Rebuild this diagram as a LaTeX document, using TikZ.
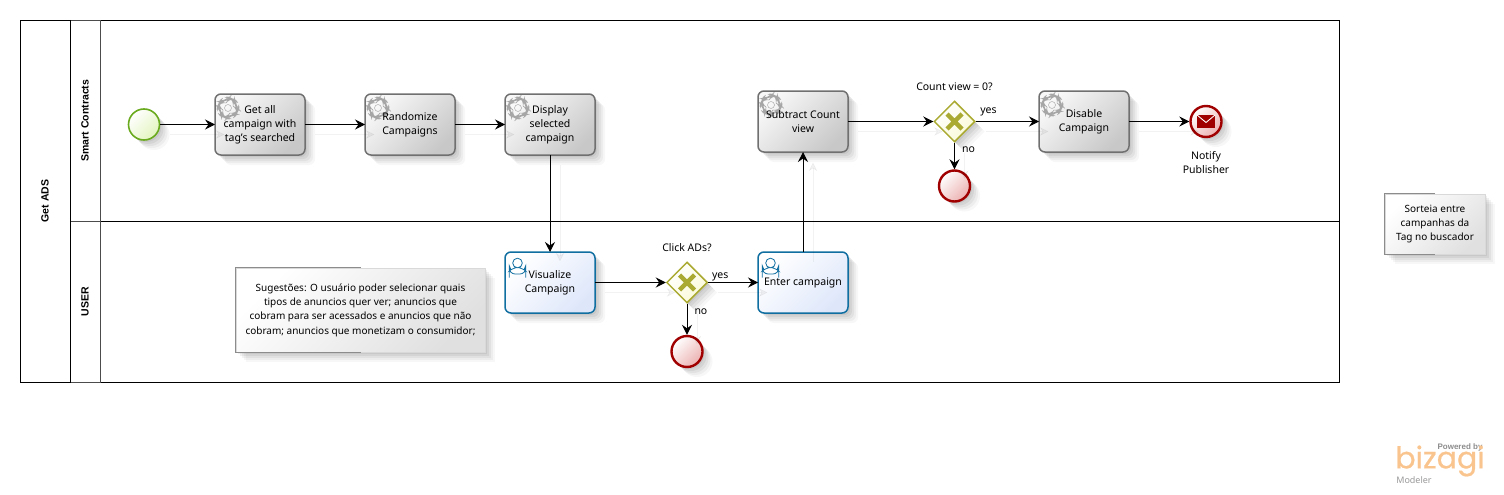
\documentclass[tikz,border=0pt]{standalone}
\usepackage{fontspec}
\setmainfont{Noto Sans}
\newfontfamily\headfont{Liberation Sans}
\newfontfamily\logofont[FakeBold=0.7]{Poppins}
\usetikzlibrary{shapes.geometric,arrows.meta,positioning,shadows}
\definecolor{cTaskTop}{RGB}{248,248,248}
\definecolor{cTaskEnd}{RGB}{200,200,200}
\definecolor{cTaskEdge}{RGB}{112,112,112}
\definecolor{cUserTop}{RGB}{255,255,255}
\definecolor{cUserEnd}{RGB}{222,231,250}
\definecolor{cUserEdge}{RGB}{16,110,160}
\definecolor{cStartEdge}{RGB}{106,170,30}
\definecolor{cStartEnd}{RGB}{226,244,190}
\definecolor{cEndEdge}{RGB}{160,0,0}
\definecolor{cEndEnd}{RGB}{236,176,176}
\definecolor{cGateEdge}{RGB}{170,170,50}
\definecolor{cGateEnd}{RGB}{250,250,215}
\definecolor{cLogo}{RGB}{249,196,142}
\tikzset{
  softshadow/.style={
    general shadow={fill=black,opacity=.03,shadow xshift=10pt,shadow yshift=-10pt},
    general shadow={fill=black,opacity=.04,shadow xshift=8pt,shadow yshift=-8pt},
    general shadow={fill=black,opacity=.05,shadow xshift=6pt,shadow yshift=-6pt},
    general shadow={fill=black,opacity=.06,shadow xshift=4pt,shadow yshift=-4pt},
    general shadow={fill=black,opacity=.06,shadow xshift=2pt,shadow yshift=-2pt}},
  gearicon/.pic={
    \draw[black!35,line width=.45pt]
      plot[samples=49,domain=0:360] (\x:{sin(4*\x)>0?10:8}) -- cycle;
    \draw[black!35,line width=.45pt] (0,0) circle (3.5);
  },
  usericon/.pic={
    \draw[cUserEdge,line width=.8pt,fill=white]
      (-8.3,8) -- (-8.3,5.5) .. controls (-8.3,3) and (-5,2.5) .. (-3,1)
      -- (3,1) .. controls (5,2.5) and (8.3,3) .. (8.3,5.5) -- (8.3,8) -- cycle;
    \draw[cUserEdge,line width=.8pt,fill=white] (0,-3) circle (4.8);
  },
  basetask/.style={rectangle,rounded corners=6pt,line width=1.5pt,outer sep=0pt,
                   minimum width=90pt,minimum height=61pt,inner sep=0pt,
                   align=center,font=\fontsize{10.5}{14}\selectfont,softshadow},
  servicetask/.style={basetask,draw=cTaskEdge,top color=cTaskTop,
                      bottom color=cTaskEnd,shading angle=45,
                      path picture={\pic[shift={(13,14)}] at
                        (path picture bounding box.north west) {gearicon};}},
  usertask/.style={basetask,draw=cUserEdge,top color=cUserTop,
                   bottom color=cUserEnd,shading angle=45,
                   path picture={\pic[shift={(12.5,14)}] at
                     (path picture bounding box.north west) {usericon};}},
  startev/.style={circle,minimum size=31pt,inner sep=0pt,line width=1.6pt,
                  draw=cStartEdge,top color=white,bottom color=cStartEnd,
                  shading angle=45,softshadow},
  endev/.style={circle,minimum size=31pt,inner sep=0pt,line width=2.4pt,
                draw=cEndEdge,top color=white,bottom color=cEndEnd,
                shading angle=45,softshadow},
  mailev/.style={endev,path picture={
      \fill[cEndEdge] (path picture bounding box.center) ++(-9,-6.5) rectangle ++(18,13);
      \draw[white,line width=.9pt] (path picture bounding box.center) ++(-9,-6.5)
        -- ++(9,7.5) -- ++(9,-7.5);}},
  gatenode/.style={diamond,aspect=1,minimum width=41pt,minimum height=41pt,
                   inner sep=0pt,line width=1.5pt,draw=cGateEdge,top color=white,
                   bottom color=cGateEnd,shading angle=45,softshadow,
                   path picture={
      \draw[cGateEdge,line width=4.4pt] (path picture bounding box.center) ++(-7.5,-7.5)
        -- ++(15,15) ++(-15,0) -- ++(15,-15);}},
  notenode/.style={rectangle,draw=black!15,top color=white,bottom color=black!12,
                   shading angle=45,inner sep=0pt,align=center,
                   font=\fontsize{10}{14.4}\selectfont,softshadow},
  noteedge/.style={draw=black!45,line width=.8pt},
  lanebody/.style={rectangle,draw=black,line width=.8pt,inner sep=0pt},
  lanehead/.style={rectangle,draw=black!70,line width=.8pt,inner sep=0pt,rotate=90,
                   font=\fontsize{10.5}{13}\headfont\bfseries},
  gatelabel/.style={inner sep=0pt,font=\fontsize{10.5}{14}\selectfont,align=center},
  flowlabel/.style={inner sep=0pt,font=\fontsize{10.5}{12}\selectfont},
  arr/.style={-{Stealth[length=10pt,width=10pt,inset=3.5pt]},line width=1pt,
              preaction={draw=black,opacity=.05,
                         transform canvas={xshift=10pt,yshift=-10pt}}}
}
\begin{document}
\begin{tikzpicture}[x=1pt,y=-1pt]
  \useasboundingbox (0,0) rectangle (1504,495);

  \node[lanebody,minimum width=1239pt,minimum height=201pt] (smartbody) at (719.5,120.5) {};
  \node[lanebody,minimum width=1239pt,minimum height=161pt] (userbody) at (719.5,301.5) {};
  \node[lanehead,minimum width=201pt,minimum height=30pt] (smarthead) at (85,120.5) {Smart Contracts};
  \node[lanehead,minimum width=161pt,minimum height=30pt] (userhead) at (85,301.5) {USER};
  \node[lanehead,draw=black,minimum width=362pt,minimum height=50pt] (pool) at (45,201) {Get ADS};

  \node[startev] (start) at (144,124.5) {};
  \node[servicetask] (gettask) at (260,124.5) {Get all\\campaign with\\tag's searched};
  \node[servicetask,right=60pt of gettask] (randtask) {Randomize\\Campaigns};
  \node[servicetask,right=50pt of randtask] (showtask) {Display\\selected\\campaign};

  \node[usertask,below=97pt of showtask] (viewtask) {Visualize\\Campaign};
  \node[gatenode] (clickgate) at (687,282.5) {};
  \node[gatelabel,above=9pt of clickgate] (clicklabel) {Click ADs?};
  \node[usertask] (entertask) at (803,282.5) {Enter campaign};
  \node[endev] (clickend) at (687,351.5) {};

  \node[servicetask] (subtask) at (803,121.5) {Subtract Count\\view};
  \node[gatenode] (countgate) at (954.5,121.5) {};
  \node[gatelabel,above=9pt of countgate] (countlabel) {Count view = 0?};
  \node[endev] (countend) at (954.5,186) {};
  \node[servicetask] (disabletask) at (1084,121.5) {Disable\\Campaign};
  \node[mailev] (notify) at (1206,121.5) {};
  \node[gatelabel,below=13pt of notify] (notifylabel) {Notify\\Publisher};

  \node[notenode,minimum width=249pt,minimum height=84pt] (note1) at (360.5,310)
      {Sugestões: O usuário poder selecionar quais\\
       tipos de anuncios quer ver; anuncios que\\
       cobram para ser acessados e anuncios que não\\
       cobram; anuncios que monetizam o consumidor;};
  \node[notenode,minimum width=100pt,minimum height=60pt] (note2) at (1435,224)
      {Sorteia entre\\campanhas da\\Tag no buscador};
  \foreach \n in {note1,note2}
    \draw[noteedge] (\n.north) -- (\n.north west) -- (\n.south west) -- (\n.south);

  \draw[arr] (start)--(gettask);
  \draw[arr] (gettask)--(randtask);
  \draw[arr] (randtask)--(showtask);
  \draw[arr] (showtask)--(viewtask);
  \draw[arr] (viewtask)--(clickgate);
  \draw[arr] (clickgate)--(entertask)
      node[flowlabel,pos=.24,above=1pt] (clickyes) {yes};
  \draw[arr] (clickgate)--(clickend)
      node[flowlabel,pos=.24,right=7pt] (clickno) {no};
  \draw[arr] (entertask)--(subtask);
  \draw[arr] (subtask)--(countgate);
  \draw[arr] (countgate)--(disabletask)
      node[flowlabel,pos=.2,above=5pt] (countyes) {yes};
  \draw[arr] (countgate)--(countend)
      node[flowlabel,pos=.27,right=7pt] (countno) {no};
  \draw[arr] (disabletask)--(notify);

  \node[inner sep=0pt,text=black!45,font=\fontsize{8}{9}\headfont\bfseries] (powered) at (1460,447.5) {Powered by};
  \node[inner sep=0pt,text=cLogo,font=\fontsize{30}{30}\logofont] (bizagi) at (1440,461) {bizagi};
  \node[inner sep=0pt,text=black!40,font=\fontsize{9}{10}\selectfont] (modeler) at (1414,480) {Modeler};

\end{tikzpicture}
\end{document}
